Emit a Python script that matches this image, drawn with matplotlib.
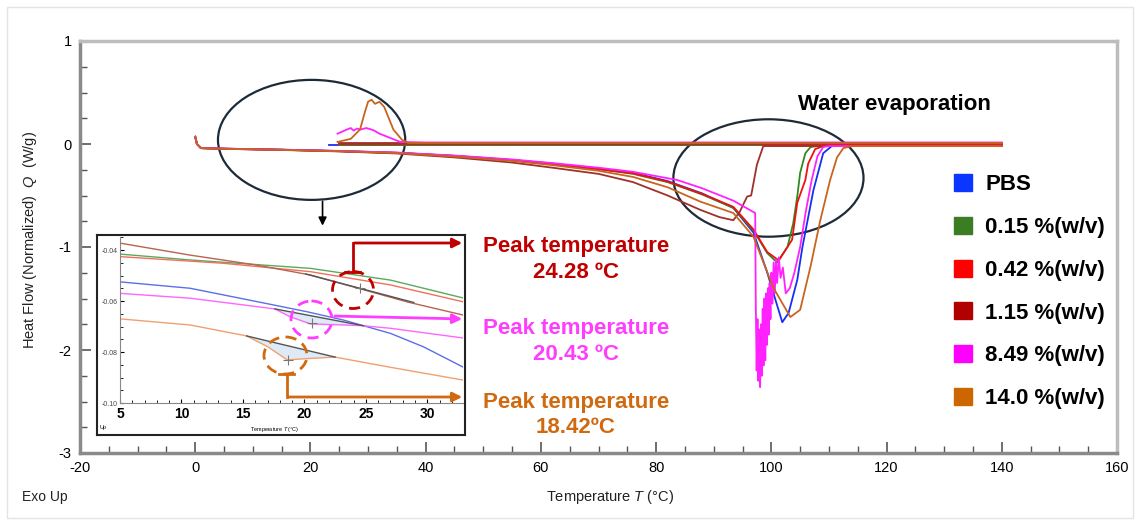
import numpy as np
import matplotlib.pyplot as plt
from matplotlib.patches import Ellipse, Patch, Rectangle
from matplotlib.ticker import MultipleLocator

plt.rcParams['font.family'] = ['Liberation Sans', 'DejaVu Sans']
plt.rcParams['mathtext.fontset'] = 'custom'
plt.rcParams['mathtext.it'] = 'Liberation Sans:italic'
plt.rcParams['mathtext.rm'] = 'Liberation Sans'
plt.rcParams['axes.unicode_minus'] = False

# ---- main DSC curves (heating), T in °C, Q in W/g ----
labels = ['PBS', '0.15 %(w/v)', '0.42 %(w/v)', '1.15 %(w/v)', '8.49 %(w/v)', '14.0 %(w/v)']
colors = ['#0A36FF', '#3A7D22', '#FF0000', '#B00000', '#FF00FF', '#CC6600']
line_colors = ['#1530F0', '#2E8B22', '#F01010', '#A0302A', '#FF22FF', '#C8641E']

T_pbs = [0, 0.3, 1, 5, 15, 25, 35, 45, 55, 62, 70, 76, 82, 88, 93.4, 96.9, 99.3, 100.7, 101.9, 103, 104.5, 105.4, 107.3, 109, 110.5, 125, 140]
Q_pbs = [0.07, 0.0, -0.04, -0.045, -0.055, -0.068, -0.085, -0.115, -0.155, -0.19, -0.24, -0.28, -0.36, -0.48, -0.62, -0.86, -1.25, -1.51, -1.73, -1.64, -1.32, -1.0, -0.45, -0.09, -0.02, -0.02, -0.02]

T_015 = [0, 0.3, 1, 5, 15, 25, 35, 45, 55, 62, 70, 76, 82, 88, 93.4, 96.9, 99.3, 101, 102.8, 103.8, 104.5, 105.0, 105.9, 106.8, 108, 125, 140]
Q_015 = [0.07, 0.0, -0.04, -0.046, -0.056, -0.07, -0.087, -0.118, -0.158, -0.195, -0.245, -0.29, -0.37, -0.49, -0.62, -0.84, -1.06, -1.15, -1.0, -0.77, -0.51, -0.28, -0.09, -0.03, -0.02, -0.02, -0.02]

T_042 = [0, 0.3, 1, 5, 15, 25, 35, 45, 55, 62, 70, 76, 82, 88, 93.4, 96.9, 99.3, 101.3, 103.6, 104.5, 105.9, 106.4, 107.6, 109, 125, 140]
Q_042 = [0.07, 0.0, -0.04, -0.046, -0.056, -0.069, -0.086, -0.116, -0.156, -0.193, -0.243, -0.285, -0.365, -0.485, -0.61, -0.83, -1.05, -1.13, -0.93, -0.57, -0.35, -0.19, -0.05, -0.02, -0.02, -0.02]

T_115 = [0, 0.3, 1, 5, 15, 25, 35, 45, 55, 62, 70, 76, 82, 87.7, 91, 93.4, 94.5, 95.8, 96.5, 97.5, 98.6, 100, 125, 140]
Q_115 = [0.07, 0.0, -0.04, -0.047, -0.058, -0.072, -0.092, -0.13, -0.18, -0.23, -0.29, -0.37, -0.5, -0.64, -0.71, -0.74, -0.66, -0.51, -0.5, -0.2, -0.02, -0.02, -0.02, -0.02]

T_849 = [0, 0.3, 1, 5, 15, 25, 35, 45, 55, 62, 70, 76, 83.7, 88, 93.4, 97.2, 97.3, 97.45, 97.6, 97.75, 97.9, 98.05, 98.2, 98.35, 98.5, 98.65,
         98.8, 98.95, 99.1, 99.25, 99.4, 99.55, 99.7, 99.85, 100.0, 100.2, 100.4, 100.6, 100.8, 101.0, 101.3, 101.6, 102.0, 102.5, 103.2,
         104.0, 105.0, 106.0, 107.0, 108.0, 109.0, 110, 125, 140]
Q_849 = [0.07, 0.0, -0.04, -0.045, -0.055, -0.067, -0.083, -0.112, -0.15, -0.185, -0.23, -0.27, -0.35, -0.43, -0.55, -0.67, -1.55, -2.2, -1.7, -2.3, -1.8, -2.36, -1.75, -2.25, -1.6, -2.15,
         -1.5, -2.1, -1.45, -1.95, -1.4, -1.85, -1.35, -1.7, -1.25, -1.55, -1.15, -1.45, -1.12, -1.35, -1.1, -1.3, -1.2, -1.45, -1.4,
         -1.25, -1.0, -0.65, -0.35, -0.12, -0.03, -0.02, -0.02, -0.02]

T_140 = [0, 0.3, 1, 5, 15, 25, 35, 45, 55, 62, 70, 76, 82, 87.7, 93.4, 96.9, 100.3, 103.3, 105, 106.8, 108.5, 110.2, 111.4, 112.5, 114, 125, 140]
Q_140 = [0.07, 0.0, -0.04, -0.047, -0.057, -0.07, -0.089, -0.122, -0.165, -0.205, -0.26, -0.32, -0.42, -0.56, -0.67, -0.9, -1.39, -1.68, -1.61, -1.19, -0.74, -0.35, -0.13, -0.04, -0.02, -0.02, -0.02]

# ---- return segments near zero (with exotherm of 8.49 and 14.0 %) ----
T_ret_pbs = [23.3, 108]
Q_ret_pbs = [-0.01, -0.01]
T_ret_015 = [25, 140]
Q_ret_015 = [-0.005, -0.005]
T_ret_042 = [25, 140]
Q_ret_042 = [0.0, 0.0]
T_ret_115 = [25, 140]
Q_ret_115 = [0.005, 0.005]
T_ret_849 = [24.7, 26.3, 27.0, 27.5, 28.1, 28.6, 29.7, 30.9, 32.0, 33.8, 35.6, 40, 140]
Q_ret_849 = [0.10, 0.14, 0.155, 0.13, 0.15, 0.14, 0.155, 0.135, 0.10, 0.06, 0.02, 0.015, 0.015]
T_ret_140 = [24.7, 27.0, 28.6, 29.4, 30.0, 30.6, 31.2, 32.0, 32.8, 34.4, 35.9, 37, 140]
Q_ret_140 = [0.02, 0.05, 0.14, 0.3, 0.41, 0.43, 0.39, 0.41, 0.36, 0.14, 0.04, 0.01, 0.01]

heat_T = [T_pbs, T_015, T_042, T_115, T_849, T_140]
heat_Q = [Q_pbs, Q_015, Q_042, Q_115, Q_849, Q_140]
ret_T = [T_ret_pbs, T_ret_015, T_ret_042, T_ret_115, T_ret_849, T_ret_140]
ret_Q = [Q_ret_pbs, Q_ret_015, Q_ret_042, Q_ret_115, Q_ret_849, Q_ret_140]

# ---- inset (zoom 5-33 °C) ----
inset_colors = ['#5A6FE8', '#5BAA5B', '#F07060', '#B86450', '#FF66FF', '#F0A070']
iT_pbs = [5, 10.7, 16.2, 20.2, 23.2, 27, 29.7, 32.9]
iQ_pbs = [-0.0525, -0.055, -0.0603, -0.0642, -0.0675, -0.0727, -0.078, -0.0859]
iT_015 = [5, 10.7, 20.5, 27, 32.9]
iQ_015 = [-0.0416, -0.0439, -0.0472, -0.0518, -0.0588]
iT_042 = [5, 13.4, 20.5, 27, 32.9]
iQ_042 = [-0.0426, -0.0452, -0.0485, -0.0537, -0.0603]
iT_115 = [5, 10.7, 16.1, 20.5, 24.3, 28.4, 32.9]
iQ_115 = [-0.0373, -0.042, -0.0459, -0.0498, -0.0549, -0.0604, -0.0655]
iT_849 = [5, 10.7, 17.6, 18.8, 20.5, 23.2, 24.8, 27, 32.9]
iQ_849 = [-0.057, -0.0589, -0.0631, -0.0661, -0.069, -0.0694, -0.0697, -0.0707, -0.0745]
iT_140 = [5, 10.7, 15.3, 17.0, 18.6, 20.2, 22.5, 27, 32.9]
iQ_140 = [-0.067, -0.0694, -0.0737, -0.0779, -0.0831, -0.0826, -0.082, -0.086, -0.091]
inset_T = [iT_pbs, iT_015, iT_042, iT_115, iT_849, iT_140]
inset_Q = [iQ_pbs, iQ_015, iQ_042, iQ_115, iQ_849, iQ_140]

peak_text = ['Peak temperature\n24.28 ºC', 'Peak temperature\n20.43 ºC', 'Peak temperature\n18.42ºC']
peak_colors = ['#C00000', '#FF3DFF', '#D06A10']

W, H = 1139, 523
fig = plt.figure(figsize=(W / 100, H / 100), dpi=100)
fig.patches.append(Rectangle((7 / W, 5 / H), 1126 / W, 511 / H, transform=fig.transFigure,
                             fill=False, edgecolor='#e4e4e4', lw=1))

ax = fig.add_axes([80 / W, 1 - 453 / H, 1037 / W, 412 / H])
for T, Q, c in zip(ret_T, ret_Q, line_colors):
    ax.plot(T, Q, color=c, lw=1.3)
for T, Q, c in zip(heat_T, heat_Q, line_colors):
    ax.plot(T, Q, color=c, lw=1.3)
ax.set_xlim(-20, 160)
ax.set_ylim(-3, 1)
ax.xaxis.set_major_locator(MultipleLocator(20))
ax.xaxis.set_minor_locator(MultipleLocator(5))
ax.yaxis.set_major_locator(MultipleLocator(1))
ax.yaxis.set_minor_locator(MultipleLocator(0.25))
ax.tick_params(which='major', direction='in', length=8, width=1.2, color='#555555', labelsize=10.5, pad=6)
ax.tick_params(which='minor', direction='in', length=5, width=1.0, color='#555555')
for s in ['left', 'bottom']:
    ax.spines[s].set_color('#8a8a8a')
    ax.spines[s].set_linewidth(2.5)
for s in ['top', 'right']:
    ax.spines[s].set_color('#bdbdbd')
    ax.spines[s].set_linewidth(2.5)

# ellipses marking regions
ax.add_patch(Ellipse((20.2, 0.04), 32.5, 1.165, fill=False, edgecolor='#1d2b38', lw=1.6))
ax.add_patch(Ellipse((99.5, -0.33), 33, 1.14, fill=False, edgecolor='#1d2b38', lw=1.6))
ax.annotate('', xy=(22.1, -0.82), xytext=(22.1, -0.53),
            arrowprops=dict(arrowstyle='-|>', color='black', lw=1.2, mutation_scale=12))
ax.text(121.3, 0.38, 'Water evaporation', fontsize=16, fontweight='bold', ha='center', va='center')

fig.text(30 / W, 1 - 240 / H, r'Heat Flow (Normalized)  $\mathit{Q}$  (W/g)', rotation=90,
         ha='center', va='center', fontsize=10.5, color='#222222')
fig.text(610 / W, 1 - 497 / H, r'Temperature $\mathit{T}$ (°C)', ha='center', va='center',
         fontsize=10.5, color='#222222')
fig.text(22 / W, 1 - 497 / H, 'Exo Up', ha='left', va='center', fontsize=10, color='#222222')

# legend
handles = [Patch(facecolor=c, edgecolor=c) for c in colors]
fig.legend(handles, labels, loc='upper left', bbox_to_anchor=(954 / W, 1 - 174 / H),
           frameon=False, prop=dict(weight='bold', size=16), handlelength=0.8, handleheight=0.8,
           handletextpad=0.6, labelspacing=0.97, borderpad=0, borderaxespad=0)

# ---- inset ----
frame = fig.add_axes([97 / W, 1 - 435 / H, 368 / W, 200 / H], zorder=5)
frame.set_xticks([])
frame.set_yticks([])
for s in frame.spines.values():
    s.set_linewidth(1.5)
    s.set_color('#222222')

ins = fig.add_axes([120 / W, 1 - 403 / H, 343 / W, 166 / H], zorder=6)
ins.patch.set_alpha(0)
for T, Q, c in zip(inset_T, inset_Q, inset_colors):
    ins.plot(T, Q, color=c, lw=1.0)

# tangent baselines and integration areas
for T, Q, (x0, x1) in [(iT_849, iQ_849, (17.6, 24.8)), (iT_140, iQ_140, (15.3, 22.5))]:
    xs = [t for t in T if x0 <= t <= x1]
    ys = [q for t, q in zip(T, Q) if x0 <= t <= x1]
    ins.fill(xs + [xs[-1], xs[0]], ys + [ys[-1], ys[0]], color='#d6e6f5', alpha=0.8, lw=0)
    ins.plot([xs[0], xs[-1]], [ys[0], ys[-1]], color='#555555', lw=1.0)
ins.plot([20.1, 28.9], [-0.0494, -0.0606], color='#555555', lw=1.0)
ins.plot([24.5, 20.6, 18.7], [-0.0549, -0.0688, -0.0832], '+', color='#777777', ms=7, mew=0.8)

ins.set_xlim(5, 32.9)
ins.set_ylim(-0.10, -0.0349)
ins.xaxis.set_major_locator(MultipleLocator(5))
ins.xaxis.set_minor_locator(MultipleLocator(1))
ins.yaxis.set_minor_locator(MultipleLocator(0.005))
ins.set_yticks([-0.04, -0.06, -0.08, -0.10])
ins.set_yticklabels(['-0.04', '-0.06', '-0.08', '-0.10'], fontsize=5, color='#444444')
ins.tick_params(axis='x', which='major', labelsize=10, pad=3, length=3, direction='in')
ins.tick_params(axis='y', which='major', pad=2, length=3, direction='in')
ins.tick_params(which='minor', length=2, direction='in')
for lab in ins.get_xticklabels():
    lab.set_fontweight('bold')
for s in ['top', 'right']:
    ins.spines[s].set_visible(False)
for s in ['left', 'bottom']:
    ins.spines[s].set_color('#888888')
fig.text(275 / W, 1 - 430 / H, r'Temperature $\mathit{T}$ (°C)', ha='center', va='center', fontsize=4, zorder=7)
fig.text(100 / W, 1 - 428 / H, 'Up', ha='left', va='center', fontsize=4, zorder=7)

# ---- annotation overlay (figure pixel coords) ----
ov = fig.add_axes([0, 0, 1, 1], zorder=10)
ov.set_xlim(0, W)
ov.set_ylim(H, 0)
ov.axis('off')
ov.patch.set_alpha(0)
circles = [((353, 290), 41, 37), ((311.5, 319.5), 41, 37), ((285.5, 355.5), 43, 37)]
for (cxy, w, h), c in zip(circles, peak_colors):
    ov.add_patch(Ellipse(cxy, w, h, fill=False, edgecolor=c, lw=2, ls=(0, (4, 2.5))))
ov.plot([345, 360], [272, 272], color=peak_colors[0], lw=2)
ov.plot([352.5, 352.5], [272, 243], color=peak_colors[0], lw=2)
ov.annotate('', xy=(465, 243), xytext=(351.5, 243),
            arrowprops=dict(arrowstyle='-|>', color=peak_colors[0], lw=2, mutation_scale=14))
ov.annotate('', xy=(465, 319), xytext=(332, 316),
            arrowprops=dict(arrowstyle='-|>', color=peak_colors[1], lw=2, mutation_scale=14))
ov.plot([279, 294], [374, 374], color=peak_colors[2], lw=2)
ov.plot([286.5, 286.5], [374, 397], color=peak_colors[2], lw=2)
ov.annotate('', xy=(465, 397), xytext=(285.5, 397),
            arrowprops=dict(arrowstyle='-|>', color=peak_colors[2], lw=2, mutation_scale=14))
for txt, c, yc in zip(peak_text, peak_colors, [259.5, 341.5, 415]):
    ov.text(576, yc, txt, color=c, fontsize=16, fontweight='bold', ha='center', va='center',
            linespacing=1.3)

fig.savefig('out.png', dpi=100)
